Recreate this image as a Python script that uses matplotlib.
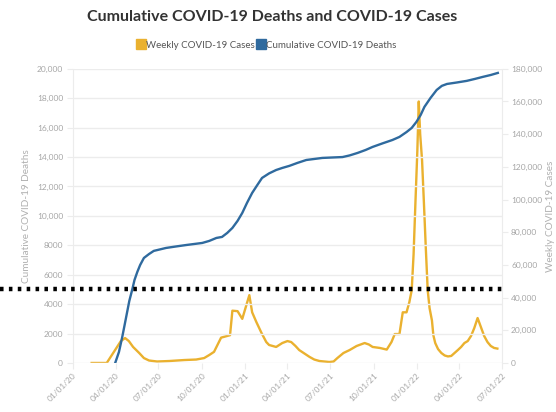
import matplotlib
matplotlib.use("Agg")
import matplotlib.pyplot as plt
from matplotlib.lines import Line2D
from matplotlib.transforms import blended_transform_factory
from matplotlib.ticker import FuncFormatter, FixedLocator
import pandas as pd

plt.rcParams['font.family'] = ['Lato', 'DejaVu Sans']

# ---- data ----
case_dates = ["2020-02-10", "2020-03-13", "2020-03-24", "2020-04-04", "2020-04-12",
              "2020-04-21", "2020-04-29", "2020-05-08", "2020-05-21", "2020-05-31",
              "2020-06-11", "2020-06-28", "2020-07-24", "2020-08-25", "2020-09-19",
              "2020-10-06", "2020-10-17", "2020-10-27", "2020-11-11", "2020-11-30",
              "2020-12-05", "2020-12-16", "2020-12-26", "2021-01-10", "2021-01-16",
              "2021-01-25", "2021-02-05", "2021-02-15", "2021-02-21", "2021-03-08",
              "2021-03-21", "2021-04-01", "2021-04-09", "2021-04-18", "2021-04-26",
              "2021-05-07", "2021-05-18", "2021-05-28", "2021-06-08", "2021-06-29",
              "2021-07-08", "2021-07-16", "2021-07-29", "2021-08-11", "2021-08-26",
              "2021-09-12", "2021-09-21", "2021-09-29", "2021-10-14", "2021-10-29",
              "2021-11-08", "2021-11-15", "2021-11-25", "2021-12-02", "2021-12-10",
              "2021-12-16", "2021-12-21", "2021-12-25", "2021-12-29", "2022-01-02",
              "2022-01-05", "2022-01-08", "2022-01-12", "2022-01-16", "2022-01-20",
              "2022-01-24", "2022-01-28", "2022-02-02", "2022-02-05", "2022-02-09",
              "2022-02-15", "2022-02-22", "2022-03-01", "2022-03-08", "2022-03-15",
              "2022-03-22", "2022-03-29", "2022-04-05", "2022-04-12", "2022-04-19",
              "2022-04-26", "2022-05-03", "2022-05-10", "2022-05-17", "2022-05-24",
              "2022-05-31", "2022-06-07", "2022-06-14", "2022-06-21"]
weekly_cases = [0, 0, 4900, 9800, 13400,
                15250, 13400, 9800, 6100, 3000,
                1500, 900, 1200, 1800, 2100,
                3000, 4900, 6800, 15500, 17000,
                32000, 31700, 27000, 41500, 31000,
                25000, 18300, 12800, 11000, 9800,
                12200, 13400, 12800, 10400, 7900,
                5800, 3700, 2100, 1200, 600,
                900, 3000, 6100, 7900, 10400,
                12200, 11300, 9800, 9200, 8200,
                12800, 17700, 17700, 31000, 31000,
                37200, 44500, 66500, 98800, 130000,
                160000, 140000, 124000, 97600, 70000,
                44500, 33500, 26000, 17000, 12200,
                8500, 6100, 4600, 4000, 4300,
                6100, 7900, 9800, 12200, 13400,
                16500, 21400, 27500, 22000, 16500,
                12800, 10400, 9200, 8800]

death_dates = ["2020-03-31", "2020-04-08", "2020-04-15", "2020-04-20", "2020-04-25",
               "2020-04-30", "2020-05-06", "2020-05-11", "2020-05-17", "2020-05-23",
               "2020-05-31", "2020-06-11", "2020-06-21", "2020-07-04", "2020-07-17",
               "2020-08-07", "2020-08-29", "2020-09-15", "2020-10-02", "2020-10-17",
               "2020-11-01", "2020-11-13", "2020-11-24", "2020-12-05", "2020-12-16",
               "2020-12-26", "2021-01-05", "2021-01-16", "2021-01-27", "2021-02-06",
               "2021-02-21", "2021-03-08", "2021-03-21", "2021-04-05", "2021-04-22",
               "2021-05-11", "2021-05-28", "2021-06-14", "2021-07-05", "2021-07-27",
               "2021-08-11", "2021-08-28", "2021-09-14", "2021-09-29", "2021-10-20",
               "2021-11-10", "2021-11-25", "2021-12-10", "2021-12-21", "2021-12-31",
               "2022-01-09", "2022-01-17", "2022-01-30", "2022-02-12", "2022-02-23",
               "2022-03-06", "2022-03-27", "2022-04-17", "2022-05-04", "2022-05-21",
               "2022-06-07", "2022-06-22"]
cumulative_deaths = [0, 750, 1770, 2580, 3400,
                     4220, 4960, 5640, 6190, 6660,
                     7140, 7410, 7620, 7720, 7820,
                     7920, 8020, 8090, 8160, 8300,
                     8500, 8570, 8840, 9180, 9660,
                     10200, 10880, 11560, 12100, 12580,
                     12890, 13120, 13260, 13400, 13600,
                     13800, 13870, 13940, 13970, 14000,
                     14110, 14280, 14480, 14690, 14930,
                     15160, 15370, 15700, 15980, 16390,
                     16860, 17410, 18020, 18560, 18840,
                     18970, 19070, 19180, 19310, 19450,
                     19580, 19720]

x_tick_dates = ["2020-01-01", "2020-04-01", "2020-07-01", "2020-10-01",
                "2021-01-01", "2021-04-01", "2021-07-01", "2021-10-01",
                "2022-01-01", "2022-04-01", "2022-07-01"]
x_tick_labels = ["01/01/20", "04/01/20", "07/01/20", "10/01/20",
                 "01/01/21", "04/01/21", "07/01/21", "10/01/21",
                 "01/01/22", "04/01/22", "07/01/22"]
death_ticks = [0, 2000, 4000, 6000, 8000, 10000, 12000, 14000, 16000, 18000, 20000]
case_ticks = [0, 20000, 40000, 60000, 80000, 100000, 120000, 140000, 160000, 180000]
reference_cases = 45000

title = "Cumulative COVID-19 Deaths and COVID-19 Cases"
case_label = "Weekly COVID-19 Cases"
death_label = "Cumulative COVID-19 Deaths"

# ---- styling ----
YELLOW = "#EAB12F"
BLUE = "#2F6A9E"
GRID = "#ECECEC"
TICK = "#A6A6A6"

fig = plt.figure(figsize=(5.56, 4.12), dpi=100)
ax = fig.add_axes([0.131, 0.119, 0.772, 0.714])
ax2 = ax.twinx()

cd = pd.to_datetime(case_dates)
dd = pd.to_datetime(death_dates)
xt = pd.to_datetime(x_tick_dates)

ax2.plot(cd, weekly_cases, color=YELLOW, lw=1.7, solid_joinstyle='round')
ax.plot(dd, cumulative_deaths, color=BLUE, lw=1.7, solid_joinstyle='round')

ax.set_zorder(ax2.get_zorder() + 1)
ax.patch.set_visible(False)

ax.set_xlim(xt[0], xt[-1])
ax.set_ylim(0, 20000)
ax2.set_ylim(0, 180000)

ax.set_xticks(xt)
ax.set_xticklabels(x_tick_labels, rotation=45, ha='right', rotation_mode='anchor')
ax.yaxis.set_major_locator(FixedLocator(death_ticks))
ax2.yaxis.set_major_locator(FixedLocator(case_ticks))

def fmt_left(v, p):
    v = int(v)
    return f"{v:,}" if v >= 10000 else f"{v}"
ax.yaxis.set_major_formatter(FuncFormatter(fmt_left))
ax2.yaxis.set_major_formatter(FuncFormatter(lambda v, p: f"{int(v):,}"))

ax.grid(axis='y', color=GRID, lw=1.0)
ax.set_axisbelow(True)
for a in (ax, ax2):
    for s in a.spines.values():
        s.set_visible(False)
    a.tick_params(colors=GRID, labelcolor=TICK, labelsize=6.0, length=4, width=0.8)
ax.spines['left'].set_visible(True)
ax.spines['left'].set_color(GRID)
ax2.spines['right'].set_visible(True)
ax2.spines['right'].set_color(GRID)
ax.tick_params(axis='x', pad=2)
ax.tick_params(axis='y', pad=3)
ax2.tick_params(axis='y', pad=2.5)

ax.set_ylabel(death_label, color="#B0B0B0", fontsize=7.2, labelpad=4)
ax2.set_ylabel(case_label, color="#B0B0B0", fontsize=7.2, labelpad=3)

# dotted reference line
tr = blended_transform_factory(fig.transFigure, ax2.transData)
fig.add_artist(Line2D([0, 0.905], [reference_cases, reference_cases], transform=tr,
                      color='black', lw=3.2, linestyle=(0, (0.8, 1.2)), solid_capstyle='butt'))

fig.text(0.49, 0.958, title, ha='center', va='center', fontsize=11.5,
         fontweight='bold', color='#333333')

handles = [Line2D([], [], marker='s', ls='none', color=YELLOW, markersize=7),
           Line2D([], [], marker='s', ls='none', color=BLUE, markersize=7)]
fig.legend(handles, [case_label, death_label], loc='center', bbox_to_anchor=(0.48, 0.89),
           ncol=2, frameon=False, fontsize=7, handletextpad=0.1, columnspacing=0.3,
           handlelength=0.8, labelcolor='#555555')

fig.savefig("out.png", dpi=100)
